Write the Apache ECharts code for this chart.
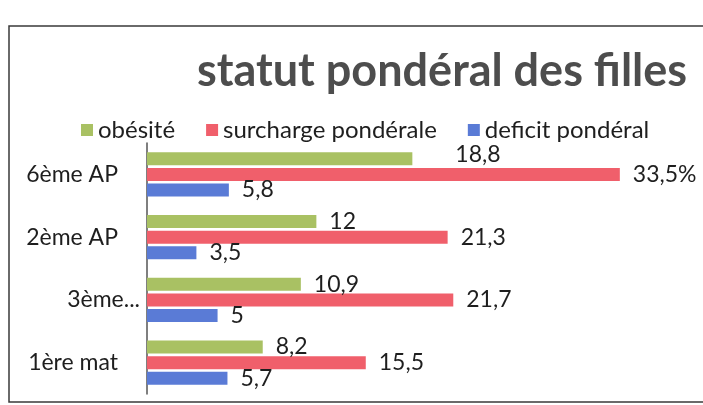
<!DOCTYPE html>
<html>
<head>
<meta charset="utf-8">
<script src="https://cdn.jsdelivr.net/npm/echarts@6/dist/echarts.min.js"></script>
<style>
  html, body { margin: 0; padding: 0; background: #fff; }
  #chart { width: 703px; height: 405px; }
</style>
</head>
<body>
<div id="chart"></div>
<script>
// categories, bottom to top
const classes = ['1ère mat', '3ème...', '2ème AP', '6ème AP'];
const obesite = [8.2, 10.9, 12, 18.8];
const surcharge = [15.5, 21.7, 21.3, 33.5];
const deficit = [5.7, 5, 3.5, 5.8];
const seriesNames = ['obésité', 'surcharge pondérale', 'deficit pondéral'];

const font = 'Lato, "Open Sans", sans-serif';
const fmt = (v) => String(v).replace('.', ',');

const chart = echarts.init(document.getElementById('chart'));

function barLabel(extra) {
    return Object.assign({
        show: true,
        position: 'right',
        distance: 13,
        color: '#1e1e1e',
        fontFamily: font,
        fontSize: 23,
        formatter: (p) => fmt(p.value)
    }, extra || {});
}

chart.setOption({
    animation: false,
    title: {
        text: 'statut pondéral des filles',
        left: 437,
        top: 44,
        textAlign: 'center',
        textStyle: {
            fontFamily: font,
            fontSize: 45,
            fontWeight: 'bold',
            color: '#4d4d4d'
        }
    },
    legend: {
        top: 113,
        left: 76,
        itemWidth: 12,
        itemHeight: 12,
        itemGap: 31,
        icon: 'rect',
        data: seriesNames,
        textStyle: { fontFamily: font, fontSize: 24, color: '#1e1e1e' }
    },
    grid: { left: 147, right: 62, top: 143, bottom: 11 },
    xAxis: {
        type: 'value',
        min: 0,
        max: 35,
        show: false
    },
    yAxis: {
        type: 'category',
        data: classes.map((c) => c === '3ème...'
            ? { value: c, textStyle: { padding: [0, -22, 0, 0] } }
            : c),
        axisLine: { show: true, lineStyle: { color: '#555', width: 1.5 } },
        axisTick: { show: false },
        axisLabel: {
            margin: 29,
            color: '#1e1e1e',
            fontFamily: font,
            fontSize: 23
        }
    },
    series: [
        {
            name: seriesNames[0],
            type: 'bar',
            data: obesite.map((v, i) => i === 3
                ? { value: v, label: { offset: [30, -4] } }
                : v),
            barWidth: 13,
            barGap: '20%',
            itemStyle: { color: '#a9c163' },
            label: barLabel()
        },
        {
            name: seriesNames[1],
            type: 'bar',
            data: surcharge,
            barWidth: 13,
            barGap: '20%',
            itemStyle: { color: '#f05f6b' },
            label: barLabel({
                formatter: (p) => fmt(p.value) + (p.dataIndex === 3 ? '%' : '')
            })
        },
        {
            name: seriesNames[2],
            type: 'bar',
            data: deficit,
            barWidth: 13,
            barGap: '20%',
            itemStyle: { color: '#5a7bd6' },
            label: barLabel()
        }
    ],
    graphic: [
        {
            type: 'rect',
            shape: { x: 9, y: 26, width: 720, height: 376 },
            style: { fill: 'none', stroke: '#3a3a3a', lineWidth: 1.5 },
            silent: true
        }
    ]
});
</script>
</body>
</html>
